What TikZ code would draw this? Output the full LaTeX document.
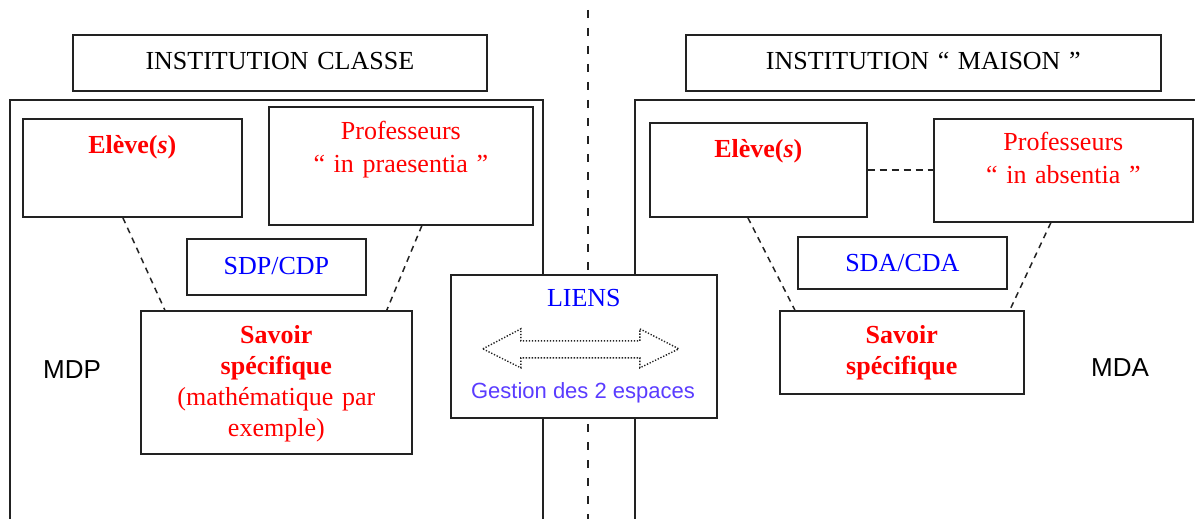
\documentclass[tikz,border=0pt]{standalone}
\usepackage{fontspec}
\setmainfont{Liberation Serif}
\setsansfont{Liberation Sans}
\usetikzlibrary{calc}
\definecolor{rouge}{RGB}{255,0,0}
\definecolor{bleu}{RGB}{0,0,255}
\definecolor{bleuviolet}{RGB}{90,60,255}
\definecolor{trait}{RGB}{34,34,34}
\begin{document}
\begin{tikzpicture}[x=1pt, y=-1pt,
    box/.style={draw=trait, line width=1.7pt, inner sep=0pt, align=center, anchor=north west,
      font=\fontsize{26}{33}\selectfont},
    cadre/.style={draw=trait, line width=1.7pt},
    tiret/.style={draw=trait, line width=1.5pt, dash pattern=on 6pt off 5pt},
    pointille/.style={draw=trait, line width=1.4pt, dash pattern=on 1.3pt off 1.7pt},
    sans/.style={font=\sffamily\fontsize{26}{30}\selectfont}]
\useasboundingbox (0,0) rectangle (1195,519);
\coordinate (haut) at (588,10);
\coordinate (bas) at (588,519);
\draw[trait, line width=2pt, dash pattern=on 8pt off 10pt] (haut) -- (bas);
\draw[cadre] (10,519) -- (10,100) -- (543,100) -- (543,519);
\draw[cadre] (1195,100) -- (635,100) -- (635,519);
% titres
\node[box, text width=414pt, text height=35pt, text depth=21pt] (ic) at (72,34) {INSTITUTION CLASSE};
\node[box, text width=475pt, text height=35pt, text depth=21pt] (im) at (685,34) {INSTITUTION “ MAISON ”};
% classe
\node[box, text=rouge, text width=219pt, text height=35pt, text depth=63pt] (el1) at (22,118) {\textbf{Elève(\textit{s})}};
\node[box, text=rouge, text width=264pt, text height=33pt, text depth=85pt] (pp) at (268,106) {Professeurs\\“ in praesentia ”};
\node[box, text=bleu, text width=179pt, text height=35.5pt, text depth=20.5pt] (sdp) at (186,238) {SDP/CDP};
\node[box, text=rouge, text width=271pt, text height=33pt, text depth=110pt,
  font=\fontsize{26}{31}\selectfont] (sv1) at (140,310) {\textbf{Savoir\\spécifique}\\(mathématique par\\exemple)};
\node[sans] (mdp) at (72,370) {MDP};
% maison
\node[box, text=rouge, text width=217pt, text height=35pt, text depth=59pt] (el2) at (649,122) {\textbf{Elève(\textit{s})}};
\node[box, text=rouge, text width=259pt, text height=32pt, text depth=71pt] (pa) at (933,118) {Professeurs\\“ in absentia ”};
\node[box, text=bleu, text width=209pt, text height=34.5pt, text depth=17.5pt] (sda) at (797,236) {SDA/CDA};
\node[box, text=rouge, text width=244pt, text height=33pt, text depth=50pt,
  font=\fontsize{26}{31}\selectfont] (sv2) at (779,310) {\textbf{Savoir\\spécifique}};
\node[sans] (mda) at (1120,368) {MDA};
% liens
\node[box, fill=white, text=bleu, text width=266pt, text height=32pt, text depth=111pt] (lk) at (450,274) {LIENS};
\node[text=bleuviolet, font=\sffamily\fontsize{22}{26}\selectfont, anchor=base] (gs) at (583,398) {Gestion des 2 espaces};
\draw[pointille] ($(lk.center)+(-101,2.5)$) -- ++(38,-20) -- ++(0,12) -- ++(119,0) -- ++(0,-12)
  -- ++(39,20) -- ++(-39,19) -- ++(0,-10) -- ++(-119,0) -- ++(0,10) -- cycle;
\draw[tiret] ([xshift=-9.5pt]el1.south) -- ([xshift=-111.5pt]sv1.north);
\draw[tiret] ([xshift=21pt]pp.south) -- ([xshift=110.5pt]sv1.north);
\draw[tiret] ([xshift=-10.5pt]el2.south) -- ([xshift=-107pt]sv2.north);
\draw[tiret] ([xshift=-12.5pt]pa.south) -- ([xshift=108pt]sv2.north);
\draw[tiret, dash pattern=on 7pt off 5pt] (el2.east) -- (el2.east -| pa.west);
\end{tikzpicture}
\end{document}
